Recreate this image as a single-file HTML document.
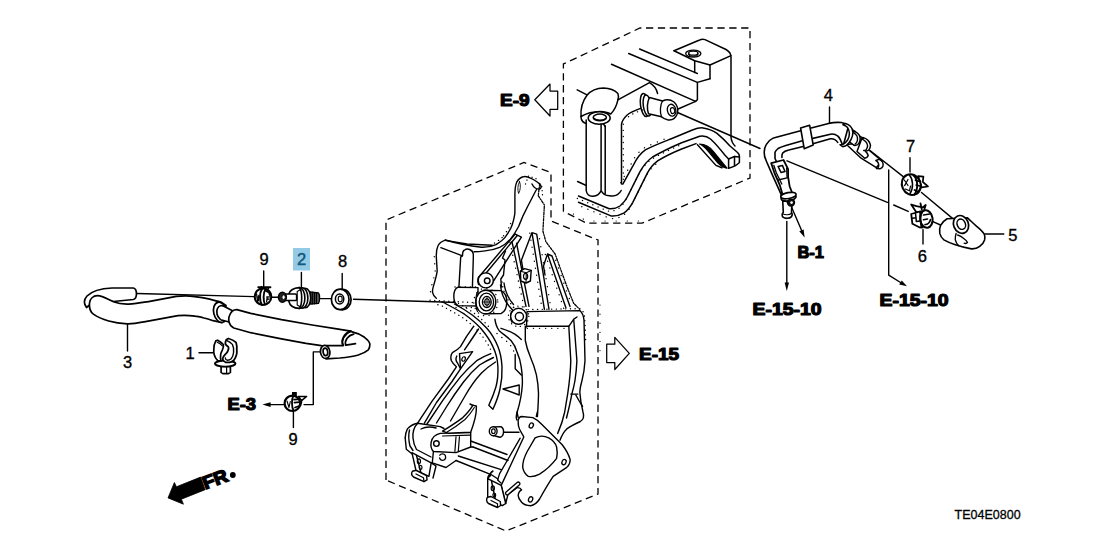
<!DOCTYPE html>
<html>
<head>
<meta charset="utf-8">
<title>TE04E0800</title>
<style>
html,body{margin:0;padding:0;background:#fff;}
body{width:1108px;height:553px;overflow:hidden;font-family:"Liberation Sans",sans-serif;}
svg{display:block;position:absolute;left:0;top:0;}
.l{fill:none;stroke:#000;stroke-width:1.7;stroke-linecap:round;stroke-linejoin:round;}
.t{fill:none;stroke:#000;stroke-width:0.9;stroke-linecap:round;stroke-linejoin:round;}
.k{fill:none;stroke:#000;stroke-width:1.6;stroke-linecap:round;stroke-linejoin:round;}
.w{fill:#fff;stroke:#000;stroke-width:1.7;stroke-linecap:round;stroke-linejoin:round;}
.d{fill:none;stroke:#000;stroke-width:1.3;stroke-dasharray:7.3 4.6;}
#bracket .l,#bracket .w,#bracket2 .l,#bracket2 .w{stroke-width:1.4;}
#block .l,#block .w{stroke-width:1.5;}
#right .l,#right .w{stroke-width:1.6;}
#leaders .l{stroke-width:1.4;}
.dt{fill:none;stroke:#000;stroke-width:1.35;stroke-linecap:round;stroke-dasharray:0.1 4.6;}
.n{font-family:"Liberation Sans",sans-serif;font-size:16.5px;fill:#000;stroke:#000;stroke-width:0.35;}
.b{font-family:"Liberation Sans",sans-serif;font-weight:bold;font-size:17px;fill:#000;stroke:#000;stroke-width:1.2;stroke-linejoin:round;}
</style>
</head>
<body>
<svg width="1108" height="553" viewBox="0 0 1108 553">
<rect x="0" y="0" width="1108" height="553" fill="#fff"/>

<!-- ===== DASHED BOXES ===== -->
<g id="dashed">
<path class="d" d="M386,480 L386,220 L524,162.5 L551,172.5 L551,221 L598,240 L598,494 L506,531 L386,480"/>
<path class="d" d="M563.4,211.4 L563.4,64 L640,28 L750,28 L750,178 L642,223.2 L586.7,223.2 L563.4,211.4"/>
</g>

<!-- ===== LABELS ===== -->
<g id="labels" style="opacity:0.999">
<rect x="293" y="248" width="17" height="22.5" fill="#93cbe6"/>
<text class="n" x="259.5" y="264.6">9</text>
<text class="n" x="297" y="264.9" style="fill:#145a7c;stroke:#145a7c;stroke-width:0.5">2</text>
<text class="n" x="338" y="266.8">8</text>
<text class="n" x="123" y="367.5">3</text>
<text class="n" x="185.5" y="359.4">1</text>
<text class="n" x="288.5" y="444.8">9</text>
<text class="n" x="823.8" y="100.8">4</text>
<text class="n" x="906" y="151.6">7</text>
<text class="n" x="917.8" y="262.4">6</text>
<text class="n" x="1008.2" y="240.6">5</text>
<text x="954.6" y="519.4" textLength="66" lengthAdjust="spacingAndGlyphs" style="font-family:'Liberation Sans',sans-serif;font-size:12.7px;fill:#000;stroke:#000;stroke-width:0.3">TE04E0800</text>

<text class="b" x="227.5" y="410" textLength="28.5" lengthAdjust="spacingAndGlyphs">E-3</text>
<text class="b" x="500" y="106" textLength="29.5" lengthAdjust="spacingAndGlyphs">E-9</text>
<text class="b" x="639" y="360" textLength="40" lengthAdjust="spacingAndGlyphs">E-15</text>
<text class="b" x="797.5" y="257.6" textLength="26.5" lengthAdjust="spacingAndGlyphs">B-1</text>
<text class="b" x="752.5" y="314.5" textLength="69" lengthAdjust="spacingAndGlyphs">E-15-10</text>
<text class="b" x="879.5" y="305.8" textLength="69" lengthAdjust="spacingAndGlyphs">E-15-10</text>
</g>

<!-- ===== OUTLINE ARROWS ===== -->
<g id="arrows">
<path class="l" d="M557.7,91 L550,91 L550,84 L534.8,99.8 L550,116 L550,109.3 L557.7,109.3 Z" style="stroke-width:1.25;fill:#fff"/>
<path class="l" d="M606.7,344.2 L614.8,344.2 L614.8,337.3 L629.3,353.4 L614.8,369.5 L614.8,362.6 L606.7,362.6 Z" style="stroke-width:1.25"/>
</g>

<!-- ===== LEADERS ===== -->
<g id="leaders">
<path class="l" d="M263.7,271 V286.5 M301.4,272.5 V288 M342.2,273.5 V289.2"/>
<path class="l" d="M127.5,324 V351"/>
<path class="l" d="M199,352.7 H214"/>
<path class="l" d="M293.4,411.5 V427.5"/>
<path class="l" d="M322,351.9 H313.3 V404.6 H304"/>
<path class="l" d="M284.5,404.6 H266"/>
<path d="M262.4,404.6 L270.6,402.3 L270.6,406.9 Z" fill="#000"/>
<path class="l" d="M137,293.5 L254,296.6"/>
<path class="l" d="M271.7,297.2 H278.2 M319.5,298.6 H331 M353.5,299.2 L474,303"/>
<path class="l" d="M829.5,107 V122.5"/>
<path class="l" d="M910,157.8 V172"/>
<path class="l" d="M923,229.6 V244"/>
<path class="l" d="M985,234 H1003.8"/>
<path class="l" d="M677.5,112.5 L760,148.5"/>
<path class="l" d="M787,160.8 L887.4,202.4 M893.7,205 L908.2,211.4"/>
<path class="l" d="M870,150.5 L904.5,177.6"/>
<path class="l" d="M921.5,192.5 L954,219.6"/>
<path class="l" d="M932.3,221.4 L940.5,225"/>
<path class="l" d="M888.7,170 V275.2 L903,284"/>
<path d="M907,286.3 L899.2,284.6 L901.8,280.4 Z" fill="#000"/>
<path class="l" d="M786.8,221.4 V284"/>
<path d="M786.8,291 L784.6,282.5 L789,282.5 Z" fill="#000"/>
<path class="l" d="M791.5,207 L802.5,232.5"/>
<path d="M804.6,237.6 L799.3,231.2 L803.6,229.4 Z" fill="#000"/>
</g>

<g id="parts-left">
<!-- hose 3: rear (upper) arm -->
<path class="w" d="M133.3,288 L112,288 C100,288.5 91,292 87,296 C83.5,300 84,304 86.5,307.5 L92,303 C96,299 104,300.5 113.4,301.5 L133.3,299.5 C137.5,298.5 137.5,289 133.3,288 Z"/>
<!-- hose 3: front arm -->
<path class="w" d="M89.5,303 C90,299 93,295.7 97.5,295.7 C103,295.8 108,299.5 113.4,301.8 C118,303.6 123,304.3 128.7,304.1 C135,303.8 141,302.8 147.2,301.8 L176.4,296.4 C183,295.6 189,295.6 194.8,296.6 C200,297.2 204,297.8 208.6,298.8 C213,299.8 217,301 221.2,302.2 L226,305.5 L222,322.6 L213.1,320.7 C210,319.6 206,318.4 204,318 C199,316.8 197,316.4 195,316.2 C189,315.3 184,315 177.9,315.7 L144.1,321.8 C138,323 133,324 127.2,323.8 C121,323.5 114.5,322.6 108.7,321 C103,319.3 97.5,317 93.4,314.1 C90.5,312 89,308 89.5,303 Z"/>
<!-- collar / open end -->
<ellipse class="w" cx="220.3" cy="312.3" rx="6.6" ry="10.3" transform="rotate(-14 220.3 312.3)"/>
<ellipse class="w" cx="222.3" cy="312.9" rx="5.4" ry="7.4" transform="rotate(-14 222.3 312.9)"/>
<path class="w" d="M223.4,306 L233,310.8 L231,323 L221.4,320 C219.5,316 220,309 223.4,306 Z" style="stroke:none"/>
<path class="l" d="M223.4,306 L232.5,310.8 M221.6,320 L230,322.3"/>
<!-- second hose -->
<path class="w" d="M236.9,309.6 L250.7,313.4 L281.5,319.6 L312.2,325 L336.8,328.8 L350.6,331.1 C355,333 356,340 352,345 L343,346.2 L321.4,345.7 L306,343.4 L281.5,338.8 L250.7,332.7 L233.8,328 C228.5,325.5 228,319 229.5,315.5 C231,311.5 233.5,309.5 236.9,309.6 Z"/>
<!-- elbow -->
<path class="w" d="M350.6,331.3 C356,332.5 361,334.8 364.5,337.3 C368,340 370,342 369.9,344.5 C369.8,347 369.5,348.5 368.3,349.8 C365,352.6 362,353.8 358.3,355 C352,356.8 346,357.5 339.9,358 L326,358.8 L326,345.6 L343,345.6 C341,341 344,334 350.6,331.3 Z"/>
<path class="l" d="M350.6,331.1 C344,333.5 340.5,340 343.2,345.4"/>
<path class="l" d="M353.7,334.2 C348,335.5 344.5,340 345.6,345.2 C349,344.8 352.5,344.3 355.5,343.7"/>
<ellipse class="w" cx="325.2" cy="351.9" rx="4.7" ry="6.6" transform="rotate(-8 325.2 351.9)"/>
<ellipse class="l" cx="325.4" cy="351.9" rx="2.3" ry="3.8" transform="rotate(-8 325.4 351.9)"/>
</g>
<g id="parts-left2">
<!-- clamp 9 upper -->
<g id="clamp9a">
<ellipse class="w" cx="263" cy="296.7" rx="8.3" ry="8.3" style="stroke-width:2.1"/>
<path class="l" d="M258.3,287.2 L270.4,287.2" style="stroke-width:2"/>
<path class="l" d="M261.5,286.8 L260.5,289.5 M268.5,288 L267,291" style="stroke-width:1.6"/>
<path class="l" d="M262,289 C259.5,292.5 259.3,301 261.8,304.8" style="stroke-width:2"/>
<path class="l" d="M265.3,289.5 C263.2,293 263,300.5 265,304.6" style="stroke-width:1.9"/>
<path class="l" d="M266,291 L269,292.5 L269.8,295" style="stroke-width:1.8"/>
<path class="l" d="M266.8,297 L270,296.8 M267.2,297.2 L266.6,301.8 M267,299.3 L269.2,299" style="stroke-width:1.3"/>
<path class="l" d="M256.6,294 L257.6,301.5 M258.8,295.5 L258.6,300.5 M256.8,297 L258.8,297.2" style="stroke-width:1.3"/>
</g>
<!-- valve 2 -->
<g id="valve2">
<path class="w" d="M310,291.8 L318.5,293 C320,295 320,301 318.5,303.4 L310,304.2 Z" style="fill:#555;stroke-width:1.3"/>
<path class="l" d="M312.3,292.2 V304 M314.4,292.5 V303.8 M316.4,292.8 V303.6" style="stroke:#000;stroke-width:1.2"/>
<ellipse class="w" cx="305.3" cy="298" rx="5.4" ry="9.6" style="stroke-width:1.6"/>
<ellipse class="w" cx="302.3" cy="298" rx="5.6" ry="10.2" style="stroke-width:1.6"/>
<ellipse class="w" cx="299.3" cy="298" rx="5.6" ry="10.4" style="stroke-width:1.6"/>
<path class="w" d="M299.3,287.6 C293,287.8 289.5,291 288.9,294 L288.9,301.5 C289.8,305.5 293.5,308.2 299.3,308.4 C302.5,305 302.5,291 299.3,287.6 Z" style="stroke-width:1.6"/>
<path class="l" d="M297.2,291.5 V305 M299.8,290 L297.2,291.5 M299.8,306.5 L297.2,305" style="stroke-width:1.1"/>
<rect class="w" x="285" y="294" width="11.6" height="6.6" rx="1.2" style="stroke-width:1.5"/>
<ellipse class="w" cx="282.4" cy="297.2" rx="3.9" ry="5" style="fill:#222;stroke-width:1.6"/>
<ellipse cx="283.6" cy="297.2" rx="1.7" ry="2.3" fill="#fff" stroke="#000" stroke-width="0.9"/>
</g>
<!-- washer 8 -->
<g id="washer8">
<ellipse class="w" cx="342.3" cy="299.6" rx="8.8" ry="10.2" style="stroke-width:1.7"/>
<ellipse class="w" cx="340.2" cy="299.4" rx="8.8" ry="10.2" style="stroke-width:1.7"/>
<ellipse class="w" cx="339.6" cy="299" rx="4.2" ry="5" style="stroke-width:1.5"/>
<ellipse class="l" cx="340.2" cy="299" rx="2" ry="2.9" style="stroke-width:1.1"/>
</g>
</g>
<g id="parts-left3">
<!-- clip 1 -->
<g id="clip1">
<path class="w" d="M221.1,366.4 H230.4 V372.4 L228.6,373.6 H222.8 L221.1,372.4 Z" style="stroke-width:1.7"/>
<path class="l" d="M226.6,367 V373.2" style="stroke-width:1.2"/>
<ellipse class="w" cx="225.2" cy="363.6" rx="10.3" ry="3" style="stroke-width:1.9"/>
<!-- left jaw -->
<path class="w" d="M215.8,340.9 C214.5,343.5 213.8,346 213.9,348.3 C213.5,351 213.7,353 214.3,355.1 C215,357.5 216,359 217.7,360.6 L221,361.2 C220.3,359.3 220.4,356.5 220.7,354.2 C221,352.5 221.8,351.5 222.4,350 C223.3,348 223.8,346.5 223.3,344.5 C221.5,342.6 219.5,341.2 217.7,340.2 Z" style="stroke-width:1.7"/>
<path class="l" d="M217.2,342.3 C219,343 221,344.3 222.3,345.8" style="stroke-width:1.2"/>
<!-- right jaw -->
<path class="w" d="M226.2,339.8 L228.4,338.5 C231.5,339.3 234,340.5 236,342.3 C236.9,345 237,347.5 236.8,350 C237,352 236.9,353.5 236.4,355.1 C235.8,357.3 235,358.8 233.9,360.2 C232.5,361.4 231,362 229.6,362.3 L225.5,362.3 C224,361.5 222.8,360.5 222.6,358.8 C222.8,357 223.8,355.8 225,354.6 C226.5,353.3 227.6,352.3 227.9,350.8 C228.6,349.3 228.8,348 228.4,347 C227,346 226,345.2 225.4,344 C225.3,342.5 225.6,341 226.2,339.8 Z" style="stroke-width:1.8"/>
<path class="l" d="M226.4,340.4 C228.5,341.2 230.8,342.6 232.4,344.4 C233.6,346.8 233.9,349.6 233.6,352.3 C233.3,355 232.5,357.2 231.2,358.8 C230,359.8 228.6,360.3 227,360.2 C225.8,359.8 225.2,359 225.3,357.9" style="stroke-width:1.4"/>
</g>
<!-- clamp 9 lower -->
<g id="clamp9b">
<path class="w" d="M298.4,396.4 L306.6,396.4 L301.6,400.6 Z" style="stroke-width:1.5"/>
<ellipse class="w" cx="292.4" cy="403.3" rx="7.8" ry="7.7" style="stroke-width:2.2"/>
<rect x="292.6" y="392.6" width="3.6" height="3" fill="#000" stroke="#000" stroke-width="1.2"/>
<path class="l" d="M293.3,396 C291.5,399 291.5,407 293.5,410.5" style="stroke-width:1.8"/>
<path class="l" d="M294,399.6 L299.5,399.2 M294.4,402.6 L299.3,402.2 M295,407.5 L300.5,405.5 L301.5,401.8" style="stroke-width:1.7"/>
<path class="l" d="M287,401 L289,407.5 L290.3,401.5" style="stroke-width:1.1"/>
</g>
</g>

<g id="bracket">
<!-- top arm -->
<path class="l" d="M445.3,240 C452,242 466,245.5 481.5,247.3 C488,247.5 492,246.5 496,244.6 C500,242 503,240 505,237.3 C509,232 511,228.5 512.2,224.7 C514,219 514.9,216 514.9,212 L514.9,193.9 C515,188 515.6,184.5 516.7,182.2 C518.5,179 521,177.3 523.1,176.8 C525.5,176 528,176.8 530.5,178.2 C534,179.8 538,182 540.5,185 C541.5,187.5 541,188.6 539.5,189 C536,189.5 533.5,187 532,184"/>
<path class="t" d="M519.5,181.5 C517.5,185 517.5,190.5 518.6,193.5 C520.5,190 521,185 519.5,181.5 Z"/>
<path class="l" d="M536.5,189.5 C533.5,195 531,200 528.5,204.8 L523.1,215.6 C521.5,219.5 520,223 518.6,226.5 C516,231.5 513.5,235.5 510.4,239.1 C507,242.8 503.5,245.5 499.6,247.3 C495,249.2 490,250.4 485.1,250.9 C480,251.6 477,251.8 474.2,251.8"/>
<!-- rounded box -->
<path class="l" d="M445.3,240.2 C441.5,241.5 439,243.5 438,245.8 C436.5,249 436.2,252.5 436.3,256.7 L437.2,271.2 C436.5,276 435,281 433.6,285.6 C432.5,289 432.2,291 432.7,292.9 C433.2,295.5 434.5,297 436.3,298.3"/>
<path class="l" d="M440.8,247.7 L462.5,255.8 C462.4,252.5 463,251 464.3,250.2 C466,249 468,248.8 469.7,249.5 C472,250.5 473.2,252 473.3,254 L473.3,258.5 L472.4,287.4"/>
<path class="l" d="M445.3,240.4 L467,244 L492.3,245.2"/>
<path class="l" d="M462.5,255.8 C462,256.3 461.3,256.6 460.7,256.9 L458.9,287.4"/>
<!-- link arm with ring -->
<path class="l" d="M481.4,274 L515.2,234.1 M492.2,283.2 L521.4,237.2 M484.5,275 L517.5,235.2 M515.2,234.1 L521.4,237.2" />
<circle class="w" cx="485.8" cy="280.4" r="7.5"/>
<circle class="l" cx="487.2" cy="280.8" r="2.8"/>
<path class="l" d="M480.5,275 C478,277 477.3,281 478.6,284.5"/>
<!-- ribs -->
<path class="l" d="M512,241.8 L526,306.3 M516.6,243.3 L529,306.3"/>
<path class="l" d="M532,232.6 L521.4,260.2 L524.4,278.6 M532,232.6 L544.4,309.3 M532,232.6 L536.7,234.1 L549,309.3"/>
<path class="l" d="M547.5,254 L565.9,307.8 M547.5,254 L552,256 L570,306.5 M547.5,254 L543.5,266 L545,275"/>
<path class="l" d="M505.5,251 L502.5,258 L505,260 L503.5,275 L500.8,279 L501.5,287"/>
<path class="t" d="M539.8,183.4 L538.2,195.7 L544.4,204.9 L542.9,231 L545.9,241.8 L555.1,254 L567.4,287.8 L573.6,303.2 L579.7,309.3" style="stroke-dasharray:2.4 1.4 1 1.4;stroke-width:1.3"/>
<!-- square nut -->
<path class="w" d="M520.4,271.2 L524.5,268.6 L531.2,270.4 L530.4,281 L526,283 L520.8,281 Z"/>
<ellipse class="l" cx="525.6" cy="276.3" rx="2.1" ry="3" style="stroke-width:1.2"/>
<path class="l" d="M520.4,271.2 L526.3,272.8 L531.2,270.4 M526.3,272.8 L526,283" style="stroke-width:1.1"/>
<!-- boss cylinder -->
<path class="w" d="M458,287.2 C455,288.5 453.8,292 453.8,296.3 C453.8,300.5 455,304 458,305.6 L478,306 L478,287.6 Z"/>
<path class="w" d="M484,290.2 L501,290.6 C505,292.5 506.9,297 506.8,302 C506.7,307.5 504.5,312 501,313.6 L484,313.8 Z"/>
<ellipse class="w" cx="485.8" cy="302" rx="10" ry="11.8"/>
<ellipse class="l" cx="486.4" cy="302" rx="7.2" ry="8.8" style="stroke-width:1.3"/>
<ellipse class="l" cx="486.8" cy="302" rx="4.4" ry="5.6" style="stroke-width:1.3"/>
<ellipse class="l" cx="487" cy="302" rx="2.3" ry="3.2" style="stroke-width:1.1"/>
<path class="l" d="M487,296.4 V307.6 M482.6,302 H491.2" style="stroke-width:0.9"/>
<path class="l" d="M477.5,292 C475.5,295 475.3,308 477.5,311.5" style="stroke-width:1.2"/>
<!-- ring 2 -->
<circle class="w" cx="518.6" cy="316.3" r="8"/>
<circle class="l" cx="519.4" cy="316.6" r="4.1"/>
<path class="l" d="M512.5,310.5 C510,313 509.8,319 512,322.5" style="stroke-width:1.1"/>
<path class="l" d="M500.5,285 C501,292 504,300 509,306 L512.8,310.3 M504,283 C505,291 508,298 513.5,304.5"/>
<!-- ledge -->
<path class="l" d="M527.3,311.6 L579.9,310.6 C582.5,313 583.6,316 584,320.2 L585,360.7 C584.6,368 583.5,375 581.9,381 C580.5,386 579.7,390 579.9,393.1 C580.3,399 581.5,406 583,412 C584.5,417 583,420 580.3,421.5 C575,424 570,426.5 566.8,428.9 C563.5,432 561.5,436 560,440.2"/>
<path class="l" d="M527.3,326.3 L568.8,326.3 L573.8,319.2 L577,317"/>
<path class="l" d="M568.8,326.3 L570.8,360.7 C570.5,372 569.3,383 567.8,393.1 L564.7,412 C563,420 561,426 557.7,433.4"/>
<path class="l" d="M573.8,320.2 L576.9,360.7 C576.6,368 575.8,375 574.9,381 C574,386 573,390 571.8,394.1 M570.8,394.1 H577.9 M571.8,394.1 C570.5,402 568.5,410 566.5,418"/>
<path class="l" d="M527,312 L526.5,327 M575.8,395 C578,399 580.5,403.5 582.6,406.3"/>
<!-- big arc A -->
<path class="l" d="M442,301.8 C444,302.5 445.5,303.2 446.3,304 C453,307.5 459,310.8 464.5,314.2 C470.5,318.5 476,323 480.7,328.3 C485.5,334 490,340 492.9,346.6 C496,353 497.6,360 497.9,366.8 C498.2,374 497.6,381 495.9,387 C494,393.5 491.5,399.5 488.8,405.3 L492.9,409.3 C495.8,403 498.5,396 500,389 C501.6,381.5 502.3,374 502,366.8 C501.6,359.5 500.5,353 497.9,346.6 C495,339.5 491.5,333.5 486.8,328.3 C482.5,323.5 478,319.3 472.6,315.2 C467,311 460.5,307.2 454.4,304"/>
<!-- arc B -->
<path class="l" d="M494.9,319.2 C495.5,323.5 496.8,327.5 499,330.4 C503,334 507.5,337 511,340.5 C514,344 516,348 517.2,352.6 C519.3,357.2 520.6,362 521.2,366.8 C522.2,372.8 522.6,379 522.3,385 C521.8,394 519.8,403.5 517.2,412 C516,416 515.5,418 517,420"/>
<path class="l" d="M525.3,326.3 L525.3,340.5 C526.3,346 528,351.5 530.3,356.7 C532.8,362.5 535,368.5 536.4,374.9 C537.6,381 538.4,387 538.5,393.1 C538.5,400 538,408 537.4,416.5"/>
<path class="l" d="M501,328.3 C506,329.8 511,332 515.2,334.4 C517.5,336 519.5,337.6 521.3,339.5"/>
<path class="l" d="M515.2,354.5 L515.2,368.8 L521.3,374.9"/>
<path class="l" d="M503,389 L519.2,385 L519.2,395 Z"/>
<!-- left arm -->
<path class="l" d="M473.6,326.3 L466.6,336.4 L460.5,346.6 C458,349.5 455,351.2 452.4,352.6 C450.6,355 450.5,358 451.4,360.7 C452.5,363 454.5,365 456.4,366.8 L448.3,379 L432.1,401.2 L417.6,423.2"/>
<path class="l" d="M478.5,329 L471.5,339.5 L464.5,349.8 M456.8,356 C455.5,358.5 455.8,361 457.5,363 L460.5,368.8 L452,381.5 L436.5,402.5 L424.4,423.2"/>
<path class="l" d="M490.9,353.6 C485.5,355.5 481,358 476.7,360.7 C471,365.5 465.5,371 460.5,376.9 C454,385 448,393 442.3,401.2 L427,424"/>
<path class="l" d="M493.5,357.5 C488,360 483.5,362.5 479.5,365 C473.5,370 468,376 463.5,382 C457.5,390 452,398 447,406 L436.5,423"/>
<path class="l" d="M495.5,362 C490,365.5 485.5,369 481.5,373 C475,380 469.5,388 465,396 L450.5,421"/>
<path class="l" d="M459.5,353.6 L472.6,351.6 L460.5,368.8 Z"/>
<ellipse class="l" cx="463.6" cy="359" rx="1.6" ry="2.3" transform="rotate(25 463.6 359)" style="stroke-width:1.2"/>
<path class="l" d="M473,405.5 L476.4,406.3 L468,424 M470,404 L473,405.5"/>
</g>
<g id="bracket2">
<!-- rails -->
<path class="l" d="M473,447 L508,460.5 M458.3,456 L501.2,469.6 M456,460.5 L489.9,474.1 M470.7,441 L507,454.5"/>
<path class="l" d="M489.9,474.1 C488.5,475.5 487.8,477 487.7,478.6 M493,471 C491,472 490,474 490,476"/>
<!-- flange plate -->
<path class="w" d="M518.2,419.9 C519,417.5 520,416.6 521.6,416.5 L532.9,417.6 C536,419 539,421.5 541.9,424.4 L562.2,444.7 C565.5,449 568.5,454 570.1,459.4 C570.3,463 569,465.5 566.8,467.3 L553.2,476.4 C548,484 543.5,492 539.6,499 C537,503 534,505.3 530.6,505.7 C526.5,505.6 523.5,504.5 521.6,502.3 C519.5,500 518.3,498 518.2,495.6 C518.3,493 519.5,491 521.6,489.9 C520.5,488 518.8,487.4 517,487.7 L508,494.4 L505.7,503.5 L501.2,485.4 L523.8,437 C522.5,433.5 519,430 518.5,426 C518.2,423.5 518.1,421.5 518.2,419.9 Z"/>
<path class="l" d="M527.2,451.5 L535.1,437.9 C539,435.8 544.5,435.8 548.7,437.9 C552.5,440 555.5,443 556.6,447 C557.4,451 557.5,455 556.6,458.3 C552,464.5 546,470 539.6,474.1 C536,476 532,477 528.3,476.4 C525.5,474.5 523.5,471.5 522.7,467.3 C522.7,462 524.5,456.5 527.2,451.5 Z"/>
<ellipse class="l" cx="531.3" cy="425.5" rx="2" ry="2.7" transform="rotate(25 531.3 425.5)" style="stroke-width:1.3"/>
<ellipse class="l" cx="564" cy="462.1" rx="2" ry="2.7" transform="rotate(25 564 462.1)" style="stroke-width:1.3"/>
<ellipse class="l" cx="530.6" cy="499.4" rx="2" ry="2.7" transform="rotate(25 530.6 499.4)" style="stroke-width:1.3"/>
<path d="M507.2,493.2 L518.2,483.8" fill="none" stroke="#000" stroke-width="4.6" stroke-linecap="round"/><path d="M507.2,493.2 L518.2,483.8" fill="none" stroke="#fff" stroke-width="2" stroke-linecap="round"/>
<path class="l" d="M520.2,438.2 L499.6,473.6 L497.6,480 L501,483" style="stroke-width:1.3"/>
<!-- bottom right foot -->
<path class="w" d="M487.7,478.6 L501.2,485.4 L505.7,503.5 L502.3,505.7 L487.7,499 Z"/>
<path class="l" d="M491.5,481 L496,502.5 M487.7,478.6 L491,474.5 L498,479"/>
<ellipse class="l" cx="492.8" cy="488.3" rx="1.6" ry="2.4" style="stroke-width:1.2"/>
<ellipse class="l" cx="494.3" cy="495" rx="1.4" ry="2" style="stroke-width:1.2"/>
<path class="w" d="M487.5,497.2 L491,496.5 L500.3,501.5 L500.6,505.5 L497.5,507.5 L488.5,503.5 C486.3,502 486,499 487.5,497.2 Z" style="stroke-width:1.4"/>
<path class="l" d="M491,500.5 L497.5,503.8 L497.5,507.5" style="stroke-width:1.2"/>
<!-- small cylinder -->
<path class="w" d="M493.3,427 L501,426.6 C503,428 503.8,430.5 503.5,432.5 C503.3,435 502,436.8 500,437.3 L493.3,435.5 Z"/>
<ellipse class="w" cx="493.2" cy="431.2" rx="3.9" ry="4.5"/>
<ellipse class="l" cx="493.4" cy="431.2" rx="1.8" ry="2.3" style="stroke-width:1.2"/>
<path class="l" d="M503.5,432.3 L519,432.3"/>
<!-- left housing -->
<path class="l" d="M405.2,437.9 C405.5,434 406.3,431 407.4,428.9 C410,426 413.5,424 417.6,423.2 L440.2,426.6 L444,428.5"/>
<path class="l" d="M405.2,437.9 L406.3,449.2 L411.9,453.8 M409.5,430 C408.5,434 408.5,440 410,446 L413,450.5"/>
<path class="l" d="M417.6,423.2 C414,427 412.5,432 413,438 C413.3,442 414.5,446 416.5,449.5 L431,457"/>
<path class="l" d="M421,429 C425,426.8 431,426.5 436,428"/>
<!-- lever -->
<path class="w" d="M440.2,433.4 L470.7,432.3 L470.7,447 L456,452.6 L433.4,451.5 C431,449 430.6,445 431.2,442 C432,438 435.5,434.5 440.2,433.4 Z"/>
<circle class="l" cx="436.4" cy="443.6" r="2.8" style="stroke-width:1.4"/>
<path class="l" d="M456,436.8 L454.9,451.5 M459.5,436 L458.3,451 M442.5,436 L470,435.2" style="stroke-width:1.2"/>
<!-- blade -->
<path class="w" d="M442.5,431.2 C450,426.5 457,422 462.8,417.6 C467,413.5 470.5,409.5 473,405.2 L476.4,406.3 C476.5,410 476,414 475.2,417.6 C474,422.5 472.5,427.5 470.7,432.3 L448,433.2 Z"/>
<path class="l" d="M446,432.8 C453,428.5 459.5,424 465,419.5 C469,415.5 472,411.5 474.3,407.5" style="stroke-width:1.1"/>
<!-- lower body -->
<path class="l" d="M433.4,451.5 L432.3,462.8 L446,467.5 L456,460.5 M470.7,447 L473,447"/>
<path class="l" d="M439.8,455.2 C441,453.5 444,453.5 445.3,455.4 C446,457.5 445.3,459.5 443.6,460.2 C441.5,460.6 440,459.5 439.6,457.8" style="stroke-width:1.3"/>
<!-- left foot -->
<path class="w" d="M411.9,452.6 L431.2,462.8 L428.9,476.4 L416,470.5 Z"/>
<path class="l" d="M416.5,455.5 L421,473 M431.2,462.8 L436,466 L433,478"/>
<ellipse class="l" cx="418.9" cy="461.2" rx="1.6" ry="2.3" style="stroke-width:1.2"/>
<ellipse class="l" cx="420.6" cy="467.4" rx="1.4" ry="2" style="stroke-width:1.2"/>
<path class="w" d="M412.5,471.2 L416,470.3 L426.6,475.6 L427,479.8 L424,481.6 L413.5,477 C411.5,475.5 411.3,473 412.5,471.2 Z" style="stroke-width:1.4"/>
<path class="l" d="M416,474 L423.5,477.8 L424,481.6" style="stroke-width:1.2"/>
<!-- upper short lines in this area -->
<path class="l" d="M517,412 L518.2,417.6 M537.4,412 L536.3,416.5"/>
</g>


<g id="block">
<!-- raised block -->
<path class="l" d="M674,50.7 L699,40.3 C701,39.2 703,39 705,39.6 L726,49.5 C729.5,51.5 731,53.5 731,57 L731,137 C731.3,141 732.5,143.5 735,146"/>
<path class="l" d="M674,50.7 L694.7,60.7 L710,65 L731,55.6"/>
<path class="l" d="M694.7,60.7 V72.4 M710,65 V78.8"/>
<ellipse class="l" cx="693.3" cy="53.6" rx="7.6" ry="3.5" style="stroke-width:1.3"/>
<ellipse class="l" cx="693.3" cy="53.2" rx="4.6" ry="2" style="stroke-width:1.3"/>
<path class="l" d="M688.7,53.2 V55 C690,56.8 696.5,56.8 697.9,55 V53.2" style="stroke-width:1"/>
<!-- long lines -->
<path class="l" d="M639.6,49 L694.7,72.4 L697.4,73.5"/>
<path class="l" d="M628.7,53.5 L697.4,82.4 L710,78.8"/>
<path class="l" d="M611.5,64.3 L695.6,101.4 L697.4,99.8 V82.4"/>
<path class="l" d="M695.6,101.4 L677.5,109.2"/>
<!-- elbow pipe -->
<path class="l" d="M577.2,89.9 L588,95.3"/>
<path class="w" d="M581,116.5 C580.5,108.5 583,100.5 587,95.3 C591,90.5 597,88 603.4,88 C609,88.2 614.5,90 617.9,93.5 C618.6,95.5 618.6,97.5 617.9,99.8 C616.8,105 614.5,110 610.8,114 C608,112.3 604,111.4 600,111.4 C592.5,111.5 586,113.5 581,116.5 Z"/>
<path class="l" d="M617.9,99.8 L649.5,82.7 C653.5,85 656.5,89 657.6,93.5"/>
<path class="l" d="M581,116.5 L581.3,119 C582,121.5 584,123 586.2,123.6"/>
<ellipse class="w" cx="599.2" cy="118" rx="11" ry="6.3"/>
<ellipse class="l" cx="599.8" cy="117.4" rx="6.6" ry="3.3" style="stroke-width:1.5"/>
<path class="l" d="M594,118.2 C596,120.6 603.5,120.7 605.8,118.3" style="stroke-width:1.1"/>
<!-- vertical tubes -->
<path class="l" d="M586.2,120 V190.5 C586.8,194.5 589.5,196.4 593,196.2 C597,196 600,193.5 601.1,190.5 M601.1,124.3 V190.5 C602.6,194 606,195.7 609.5,195.7 M605.2,126 V193.5 M609.5,195.7 C614.5,196.7 619,194.5 621.2,190.5"/>
<path class="l" d="M603.5,124 L605.2,126.5"/>
<!-- wall -->
<path class="l" d="M641.4,108 C636,110 630.5,112 626.9,115.2 C624,118 622,121 621.5,124.2 L621.5,184"/>
<!-- fitting -->
<ellipse class="w" cx="644.8" cy="105" rx="4.3" ry="11.6" transform="rotate(-8 644.8 105)"/>
<ellipse class="w" cx="647.3" cy="105.6" rx="4" ry="10.6" transform="rotate(-8 647.3 105.6)"/>
<path class="w" d="M649.5,97.5 L662.5,101 C666,99.3 670.5,99.5 674,102 C677.3,105 678.5,110 677,114.5 C675.3,118.5 671.5,120.5 667.5,119.8 C665,119.3 663,118.2 661.5,116.8 L648.5,113.8 C646.8,109 647,102 649.5,97.5 Z"/>
<path class="l" d="M662.5,101 C660,105 659.8,112 661.5,116.8" style="stroke-width:1.3"/>
<ellipse class="l" cx="671.6" cy="110.2" rx="4.2" ry="6" transform="rotate(-12 671.6 110.2)" style="stroke-width:1.3"/>
<ellipse class="l" cx="672.6" cy="110.6" rx="2.1" ry="3" transform="rotate(-12 672.6 110.6)" style="stroke-width:1.2"/>
<!-- strap -->
<path class="l" d="M577.6,181.5 L585.7,185.2 M622.8,184.2 L632.8,166.2 C636,159.5 640,153.5 645.4,149.9 C653,145.8 662,142.4 670.7,139 L692.4,130 C697,128.2 700,127.6 703,127.9 C708.5,128.6 713,130.5 717,133.3 C721.5,137 726,141.5 730,146 L737,152 C739,153.5 739.6,155 739.4,157 L739.4,162.5 C737,165 733,167 728.6,168.3"/>
<path class="l" d="M578.5,196 L609.2,208.7 C613.5,209 617,208 620,206 C623,203.5 625.5,200.5 627.3,197 L640,171.6 C643.5,165.5 647.5,160.5 652.6,157 C662,151.5 672,146.8 681.6,142.7 L699.7,136.3 C703.5,135.6 707.5,136.6 710.5,139 C716,144 720.5,149.5 725,155.3 L728.6,159 L734.5,156.5 L739.4,157"/>
<path class="l" d="M578.5,202.3 L611,215.9 C616,216.3 620,215.3 623.7,213.2 C627.5,210.5 630.5,206.5 632.8,202.3 L647.2,173.4 C650,168 653.5,164 658,160.7 C665.5,156 673.5,152.3 681.6,149 L696,143.6"/>
<path class="l" d="M728.6,159 V168.3 M734.5,156.5 V165.5"/>
<!-- hatched underside -->
<path d="M699.5,144 C703,145.5 706,148.5 708.5,151.5 L718,163 C721,166 724,167.8 727,168.2 L723.5,164 L713.5,151.5 C710,147 705.5,144 699.5,144 Z" fill="#000" stroke="#000" stroke-width="1.2" stroke-linejoin="round"/>
<path d="M697,144.3 L716,165.5 L722.5,168" fill="none" stroke="#000" stroke-width="1.4"/>
</g>

<g id="dots">
<path class="dt" d="M430,300.2 L474,302.6" />
<path class="dt" d="M440,303.5 C444,304.5 445.5,305.2 446.3,306 C453,309.5 459,312.8 464.5,316.2 C470.5,320.5 476,325 480.7,330.3 C485.5,336 490,342 492.9,348.6" transform="translate(-2.2,1.2)"/>
<path class="dt" d="M454.4,304 C460.5,307.2 467,311 472.6,315.2 C478,319.3 482.5,323.5 486.8,328.3" transform="translate(1.8,-1.8)" style="stroke-dashoffset:2"/>
<path class="dt" d="M436.3,256.7 L437.2,271.2 C436.5,276 435,281 433.6,285.6 C432.5,289 432.2,291 432.7,292.9" transform="translate(-2,0)" style="stroke-dasharray:0.1 7"/>
<path class="dt" d="M527.3,311.6 L579.9,310.6 C582.5,313 583.6,316 584,320.2 L585,345" transform="translate(0.8,-2)"/>
<path class="dt" d="M527.3,326.3 L568.8,326.3" transform="translate(0,2)" style="stroke-dasharray:0.1 6"/>
<circle class="dt" cx="518.6" cy="316.3" r="10.2"/>
<ellipse class="dt" cx="485.8" cy="302" rx="12" ry="13.8" style="stroke-dasharray:0.1 5.5"/>
<path class="dt" d="M455,287 H478 M456,307.5 H476" style="stroke-dasharray:0.1 5"/>
<path class="dt" d="M512,241.8 L526,306.3" transform="translate(-2,0.5)" style="stroke-dasharray:0.1 6.5"/>
<path class="dt" d="M532,232.6 L544.4,309.3 M547.5,254 L565.9,307.8" transform="translate(-2.2,0.5)" style="stroke-dasharray:0.1 7"/>
<path class="dt" d="M536.7,234.1 L549,309.3 M552,256 L570,306.5" transform="translate(2,-0.5)" style="stroke-dasharray:0.1 8;stroke-dashoffset:3"/>
<path class="dt" d="M505,237.3 C509,232 511,228.5 512.2,224.7 M496,244.6 C500,242 503,240 505,237.3" transform="translate(-1.5,-1.5)"/>
<path class="dt" d="M500,283 C501,291 504,299 509,305 L513,310" transform="translate(2,-1)" />
<path class="dt" d="M499,332 C503,335.6 507.5,338.6 511,342 C514,345.5 516,349.5 517.2,354" transform="translate(-2,1.5)" style="stroke-dasharray:0.1 6"/>
<path class="dt" d="M524,186 L527,178 L538,182 M540.3,188.5 L541,197" transform="translate(1.5,-2)" style="stroke-dasharray:0.1 4"/>
<path class="dt" d="M600,305 V355" transform="translate(0,0)" style="stroke-dasharray:0.1 9;stroke-width:1.2"/>
<!-- block strap dots -->
<path class="dt" d="M578.5,196 L609.2,208.7 C613.5,209 617,208 620,206 C623,203.5 625.5,200.5 627.3,197 L640,171.6 C643.5,165.5 647.5,160.5 652.6,157 C662,151.5 672,146.8 681.6,142.7" transform="translate(-1.2,2.4)" style="stroke-dasharray:0.1 5.5"/>
<path class="dt" d="M578.5,202.3 L611,215.9 C616,216.3 620,215.3 623.7,213.2 C627.5,210.5 630.5,206.5 632.8,202.3 L647.2,173.4 C650,168 653.5,164 658,160.7" transform="translate(-1,2.6)" style="stroke-dasharray:0.1 6.5;stroke-dashoffset:2"/>
<path class="dt" d="M622.8,184.2 L632.8,166.2 C636,159.5 640,153.5 645.4,149.9 C653,145.8 662,142.4 670.7,139" transform="translate(-2,-1.5)" style="stroke-dasharray:0.1 7"/>
<path class="dt" d="M621.5,124.2 L621.5,184" transform="translate(1.8,0)" style="stroke-dasharray:0.1 6"/>
<path class="dt" d="M641.4,108 C636,110 630.5,112 626.9,115.2" transform="translate(1,2)" style="stroke-dasharray:0.1 5"/>
<path class="dt" d="M563.5,211 L587,223 H640" transform="translate(0,-2)" style="stroke-dasharray:0.1 11;stroke-width:1.2"/>
</g>
<g id="right">
<!-- hose 4 -->
<path class="w" d="M781.9,196.2 L778.1,187.7 L771.9,173.8 L766.5,161.5 C764.8,158 764,155 764.2,152.3 C764.3,149 765,146.5 766.2,144.6 C768,141.5 770.5,139.3 773.5,137.9 L801.5,130.6 L828.6,123.4 C833,122.4 837.5,122.2 841.3,122.5 C844.5,123 846.8,124.2 848.5,126 L843,146.5 C841.5,142 840,137.5 837.7,136 C835.5,134.2 833,133.8 830.4,134.2 L803.3,140.6 L785.8,145.4 C782,146.5 779.5,147.5 778.1,148.5 C776.3,150 775.3,151 775,152.3 L775,158.5 L776.5,161.5 L786,180 Z"/>
<path class="l" d="M781.9,157.5 C781.8,155.5 782,154 782.7,153.1 C784,151.5 786,150.6 788.8,150 L804.2,146.2 L830.4,138.8 C833.5,138.4 836,140 837.7,142.4"/>
<!-- band -->
<path class="w" d="M800.6,128 L809.6,125.2 L813.2,145 L804.2,148.7 Z"/>
<!-- rings / connector right -->
<path class="w" d="M846.5,144.5 L861.1,158.2 L876.4,167.6 L881.6,160.8 L869.4,150.5 L860,143 Z" style="stroke-width:1.5"/>
<path class="w" d="M861.7,138.8 L863.5,137.6 C865.5,138.2 867,139.3 868.2,140.6 C869.6,142 870.4,143.5 870.5,145.3 C870.4,147.3 869.8,148.8 868.8,150 C867.8,150.8 866.5,151.1 865.2,151.1 C866.5,152 867.6,153.5 868.2,155.8 C867.5,157.3 866.2,158 864.7,158.2 L857,151.5 Z" style="stroke-width:1.5"/>
<path class="l" d="M861.7,138.8 C863.5,139.6 864.8,140.5 865.8,141.7 C867,143 867.5,144.3 867.6,145.8 C867.4,147.4 866.9,148.7 866.1,149.7 C865.4,150.2 864.6,150.5 863.7,150.5" style="stroke-width:1.4"/>
<path class="w" d="M853.5,131 L855.3,131.7 C857,132.6 858.4,133.8 859.4,135.3 C860.3,137 860.4,138.8 860,140.6 C859.6,142.3 858.8,143.7 857.6,144.7 C856.5,145.3 855.3,145.5 854.1,145.3 L849,141.5 Z" style="stroke-width:1.5"/>
<path class="l" d="M853.6,132.6 C855,133.5 856.2,134.6 857,136 C857.6,137.5 857.7,139 857.4,140.6 C857,142 856.2,143.2 855.2,144" style="stroke-width:1.4"/>
<path class="l" d="M851.7,129.4 L855.3,131.7 M860,136.4 L863.5,138.2" style="stroke-width:1.5"/>
<path class="w" d="M845.3,123.5 C847.5,124 849.3,125 850.6,126.5 C852.2,128.2 852.9,130 852.9,132.3 C852.9,135 852.3,137.3 851.1,139.4 C850,141.8 848.4,143.8 846.4,145.3 C845,146.2 843.7,146.5 842.3,146.4 L840,144.7 C841.3,144.8 842.5,144.6 843.5,144.1 C845.2,142.9 846.6,141.5 847.6,140 C848.8,138 849.4,135.8 849.4,133.5 C849.4,131.5 848.8,129.5 847.6,127.6 C846.4,126.2 844.8,125.2 842.9,124.7 Z" style="stroke-width:1.5"/>
<path class="w" d="M875.8,160.5 L878.8,159.4 C880.2,159.8 881.4,160.6 882.3,161.7 C883.2,163.2 883.4,164.8 882.9,166.4 C882.3,167.6 881.3,168.4 879.9,168.8 L876.4,168.5 C877.5,168.2 878.2,167.7 878.5,167 C878.9,165.5 878.8,164.1 878.2,162.9 C877.6,161.8 876.8,161 875.8,160.5 Z" style="stroke-width:1.4"/>
<!-- connector left -->
<path class="w" d="M771.2,163.1 L783.5,160 L788.1,169.2 L788.1,176.9 L789.6,186.2 L791.9,192.3 L782.7,195 L779.6,184.6 L774.2,172.3 Z" style="stroke-width:1.8"/>
<path class="l" d="M778.1,166.4 L782.4,165.4 L785,171.5 L781,172.5 Z" style="stroke-width:1.5"/>
<path class="l" d="M778.1,180 L788.1,177.7 M773.8,165.3 L776.3,172.8 L781.8,184" style="stroke-width:1.3"/>
<path class="l" d="M786.6,168 L787,177" style="stroke-width:1.2"/>
<!-- flange -->
<ellipse class="w" cx="788.6" cy="197.8" rx="7.6" ry="3" transform="rotate(-10 788.6 197.8)"/>
<ellipse class="w" cx="788.4" cy="195.6" rx="7.8" ry="3" transform="rotate(-10 788.4 195.6)"/>
<!-- lower nipple -->
<path class="w" d="M782.7,200.5 L783.3,212.3 C781.8,213.5 781.8,216 783,217.2 C785,218.8 789.5,218.8 791.5,216.6 C792.3,215.3 792.3,213.5 791.5,212.5 L791.9,203 Z"/>
<path class="l" d="M782.6,213.6 C784.5,215.2 789.5,215.2 791.6,213.3" style="stroke-width:1.2"/>
<circle cx="791" cy="202.6" r="3.5" fill="#111" stroke="#000" stroke-width="1.4"/>
<circle cx="791.6" cy="202.6" r="1.3" fill="#fff"/>
<!-- clamp 7 -->
<g id="clamp7">
<path class="w" d="M918.1,176.1 L923.4,176.7 L922.8,181.9 L928,186.5 L921.5,187.3 Z" style="stroke-width:1.7"/>
<ellipse class="w" cx="911.3" cy="184.6" rx="9.3" ry="10.6" transform="rotate(-25 911.3 184.6)" style="stroke-width:2"/>
<path class="l" d="M913.5,175.5 C917.5,178.5 918.8,188 914.5,194.5" style="stroke-width:1.9"/>
<path class="l" d="M909.5,175.2 C913,179 913.8,188 910,193.6" style="stroke-width:1.5"/>
<path class="l" d="M915.5,180.2 L920.5,181.6 M916.2,185 L920.8,186.2 M914.5,190 L918.5,191.8 L920.5,188" style="stroke-width:1.7"/>
<path class="l" d="M904.3,180 L908,185.5 M908,179.5 L904.6,185.6 M905.3,189 L909.5,190.8 M910.5,186 L909.5,190.8" style="stroke-width:1.2"/>
</g>
<!-- clamp 6 -->
<g id="clamp6">
<path class="w" d="M911.2,204.5 L916.4,206.2 L922.8,207.4 L925.7,205 L923.9,210.8 L916.5,212.5 Z" style="stroke-width:1.8"/>
<path class="l" d="M920.5,203.5 L921.8,209.5" style="stroke-width:1.8"/>
<path class="w" d="M911.2,214 L920,211.5 L921.5,227.5 L919.3,227.3 L912.4,223.8 Z" style="stroke-width:1.8"/>
<ellipse class="w" cx="926.4" cy="219" rx="6.2" ry="8.8" transform="rotate(-8 926.4 219)" style="stroke-width:2"/>
<path class="l" d="M922.3,211.5 C919.6,215 919.8,224 922.8,227.5" style="stroke-width:1.8"/>
<path class="l" d="M912.3,218.3 L916,217.8 L916.3,221.5 L919.8,221 M915.5,213.5 L916,217.8" style="stroke-width:1.5"/>
<path class="l" d="M923.5,215 L929.5,214 M923.5,219.8 L927.5,219 M925,224.5 C927.5,224.8 930,222.5 930.5,219.5" style="stroke-width:1.6"/>
</g>
<!-- part 5 cap -->
<g id="cap5">
<path class="w" d="M947.1,218.7 C944,220.5 942,222.8 940.6,225.3 C939.5,228 939.3,230.8 939.8,233.4 C940.5,236.3 942,238.5 943.9,239.9 C947.5,242 951.5,243.5 955.3,244.8 C960.5,246.5 966,248 971.5,248.9 C974.5,249 977.5,248.2 979.7,246.4 C982,244.6 983.8,242.5 984.6,239.9 C985,238 985,236 984.3,234.2 C982.5,231.2 979.5,228.6 976.4,226.1 C973.5,223.5 970.5,220.6 967.5,217.9 Z"/>
<ellipse class="w" cx="961" cy="224.4" rx="7.4" ry="9.1" transform="rotate(-22 961 224.4)" style="stroke-width:1.7"/>
<ellipse class="l" cx="961.3" cy="224.2" rx="4.1" ry="5.3" transform="rotate(-22 961.3 224.2)" style="stroke-width:1.5"/>
<path class="l" d="M956.1,233.4 C955.2,236 955.2,238 955.3,239.9 C955.8,242 957,244 958.5,245.6" style="stroke-width:1.4"/>
<path class="l" d="M957.7,235 C960,235.8 962,237 963.4,238.3 C965.5,239.8 967,241 967.5,242.4 C966.8,243.4 965.5,243.6 964.2,243.2" style="stroke-width:1.4"/>
</g>
</g>

<g id="fr" style="opacity:0.999">
<path d="M168,497.9 L174.4,482.5 L176.4,486.8 L200.6,477.1 L205.1,489.7 L181.4,499.2 L183.4,504.2 Z" fill="#000" stroke="#000" stroke-width="0.8" stroke-linejoin="round"/>
<text x="205.3" y="489.6" transform="rotate(-21 205.3 489.6)" style="font-family:'Liberation Sans',sans-serif;font-weight:bold;font-size:18px;fill:#000;stroke:#000;stroke-width:1.6" textLength="25.5" lengthAdjust="spacingAndGlyphs">FR</text>
<circle cx="232.8" cy="475" r="2.9" fill="#000"/>
</g>
</svg>
</body>
</html>
